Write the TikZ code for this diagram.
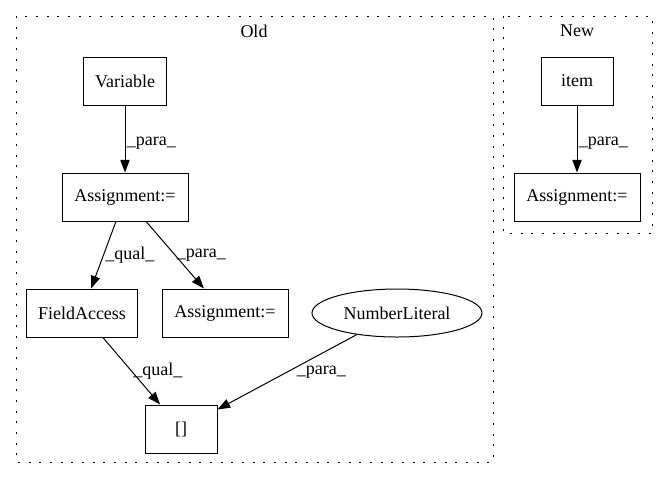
\documentclass[tikz,border=0pt]{standalone}
\usepackage{fontspec}
\setmainfont{Liberation Serif}
\usepackage{tikz}
\usetikzlibrary{arrows.meta, shapes.geometric, positioning, quotes}
\tikzset{>=latex}
\tikzset{edge/.style = {-{Triangle[length=9.5pt,width=7pt]}, line width=0.75pt}}
\tikzset{box/.style = {draw, line width=0.75pt, minimum height=36pt, inner sep=0pt}}
\tikzset{oval/.style = {draw, ellipse, line width=0.75pt, minimum height=36pt, minimum width=127.5pt, inner sep=0pt}}
\tikzset{cluster/.style = {draw, line width=0.75pt, dash pattern=on 1.5pt off 6.5pt}}
\tikzset{lbl/.style = {right, inner sep=1pt}}

\begin{document}
\begin{tikzpicture}[x=0.75pt, y=-0.75pt, font=\fontsize{13.5}{15}\selectfont]
    \useasboundingbox (0,0) rectangle (667,480);

    % Old cluster
    \draw [cluster] (16,16) rectangle (493,462);
    \node (old) at (254,31) {Old};

    \node [box, minimum width=62pt] (var) at (125,81) {Variable};
    \node [box, minimum width=94.5pt] (asg) at (125,197) {Assignment:=};
    \node [box, minimum width=83pt] (fa) at (82,313) {FieldAccess};
    \node [box, minimum width=94.5pt] (asgb) at (225,313) {Assignment:=};
    \node [oval] (num) at (397,313) {NumberLiteral};
    \node [box, minimum width=54pt] (idx) at (181,429) {[]};

    % Variable to Assignment
    \draw [edge] (var) -- node [lbl, yshift=-3pt] {\_para\_} (asg);

    % Assignment to FieldAccess
    \draw [edge] (asg) -- node [lbl] {\_qual\_} (fa);

    % Assignment to Assignment
    \draw [edge] (asg) -- node [lbl] {\_para\_} (asgb);

    % FieldAccess to []
    \draw [edge] (fa) -- node [lbl] {\_qual\_} (idx);

    % NumberLiteral to []
    \draw [edge] (num) -- node [lbl, xshift=6pt] {\_para\_} (idx);

    % New cluster
    \draw [cluster] (503,16) rectangle (652,233);
    \node (new) at (577,31) {New};

    \node [box, minimum width=54pt] (item) at (577,81) {item};
    \node [box, minimum width=94.5pt] (asgn) at (577,197) {Assignment:=};

    % item to Assignment
    \draw [edge] (item) -- node [lbl, yshift=-3pt] {\_para\_} (asgn);
\end{tikzpicture}
\end{document}
